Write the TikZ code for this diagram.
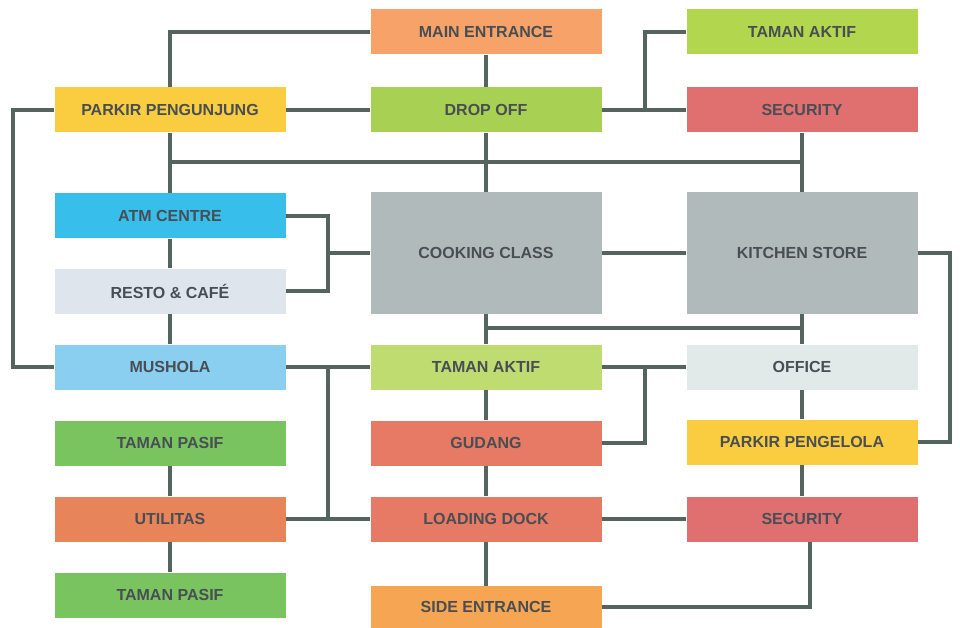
\documentclass[tikz,border=0pt]{standalone}
\usepackage{fontspec}
\setmainfont{Liberation Sans}
\usetikzlibrary{positioning}
\definecolor{linkgray}{RGB}{86,100,96}
\definecolor{labelgray}{RGB}{72,78,84}
\definecolor{orangeA}{RGB}{246,162,104}
\definecolor{limeA}{RGB}{178,214,78}
\definecolor{greenA}{RGB}{168,208,82}
\definecolor{yellowA}{RGB}{250,204,64}
\definecolor{redA}{RGB}{224,112,112}
\definecolor{cyanA}{RGB}{56,190,234}
\definecolor{paleA}{RGB}{222,229,236}
\definecolor{grayA}{RGB}{176,186,186}
\definecolor{skyA}{RGB}{138,206,240}
\definecolor{limeB}{RGB}{190,220,112}
\definecolor{paleB}{RGB}{226,233,233}
\definecolor{grassA}{RGB}{122,196,96}
\definecolor{coralA}{RGB}{230,122,100}
\definecolor{orangeB}{RGB}{232,132,90}
\definecolor{orangeC}{RGB}{246,166,82}

\begin{document}
\begin{tikzpicture}[x=1pt,y=-1pt,
    room/.style={minimum width=231pt, minimum height=45pt, inner sep=0pt,
      font=\bfseries\fontsize{16}{18}\selectfont, text=labelgray},
    bigroom/.style={room, minimum height=121pt},
    link/.style={draw=linkgray, line width=4.5pt}]
    \useasboundingbox (0,0) rectangle (960,628);

    % top rows
    \node[room, fill=orangeA] (main) at (486,32) {MAIN ENTRANCE};
    \node[room, fill=limeA] (tamanA) at (802,32) {TAMAN AKTIF};
    \node[room, fill=yellowA] (parkirP) at (170,110) {PARKIR PENGUNJUNG};
    \node[room, fill=greenA] (drop) at (486,110) {DROP OFF};
    \node[room, fill=redA] (secA) at (802,110) {SECURITY};

    % core
    \node[room, fill=cyanA] (atm) at (170,216) {ATM CENTRE};
    \node[bigroom, fill=grayA] (cook) at (486,253) {COOKING CLASS};
    \node[bigroom, fill=grayA] (kitchen) at (802,253) {KITCHEN STORE};
    \node[room, fill=paleA] (resto) at (170,291) {RESTO \& CAFÉ};

    % lower rows
    \node[room, fill=skyA] (mushola) at (170,367) {MUSHOLA};
    \node[room, fill=limeB] (tamanB) at (486,367) {TAMAN AKTIF};
    \node[room, fill=paleB] (office) at (802,367) {OFFICE};
    \node[room, fill=grassA] (pasifA) at (170,443) {TAMAN PASIF};
    \node[room, fill=coralA] (gudang) at (486,443) {GUDANG};
    \node[room, fill=yellowA] (parkirK) at (802,442) {PARKIR PENGELOLA};
    \node[room, fill=orangeB] (util) at (170,519) {UTILITAS};
    \node[room, fill=coralA] (loading) at (486,519) {LOADING DOCK};
    \node[room, fill=redA] (secB) at (802,519) {SECURITY};
    \node[room, fill=grassA] (pasifB) at (170,595) {TAMAN PASIF};
    \node[room, fill=orangeC, minimum height=42pt] (side) at (486,607) {SIDE ENTRANCE};

    % bends and junctions
    \coordinate (bendL) at (13,110);
    \coordinate (bendR) at (950,253);
    \coordinate (jDrop) at (645,110);
    \coordinate (busA) at (170,162);
    \coordinate (busB) at (486,328);
    \coordinate (jAtm) at (328,253);
    \coordinate (jMus) at (328,367);
    \coordinate (jTaman) at (645,367);

    % entrance links
    \draw[link] (main.west) -| (parkirP.north);
    \draw[link] (main.south) -- (drop.north);
    \draw[link] (parkirP.east) -- (drop.west);
    \draw[link] (drop.east) -- (secA.west);
    \draw[link] (tamanA.west) -| (jDrop);
    \draw[link] (parkirP.west) -- (bendL) |- (mushola.west);

    % upper bus
    \draw[link] (parkirP.south) -- (atm.north);
    \draw[link] (drop.south) -- (cook.north);
    \draw[link] (secA.south) -- (kitchen.north);
    \draw[link] (busA) -- (busA -| secA.south);

    % core links
    \draw[link] (atm.east) -| (jAtm) |- (resto.east);
    \draw[link] (jAtm) -- (cook.west);
    \draw[link] (atm.south) -- (resto.north);
    \draw[link] (resto.south) -- (mushola.north);
    \draw[link] (cook.east) -- (kitchen.west);
    \draw[link] (kitchen.east) -- (bendR) |- (parkirK.east);

    % lower bus
    \draw[link] (cook.south) -- (tamanB.north);
    \draw[link] (kitchen.south) -- (office.north);
    \draw[link] (busB) -- (busB -| kitchen.south);

    % lower links
    \draw[link] (mushola.east) -- (tamanB.west);
    \draw[link] (jMus) -- (jMus |- util.east);
    \draw[link] (util.east) -- (loading.west);
    \draw[link] (tamanB.east) -- (office.west);
    \draw[link] (jTaman) |- (gudang.east);
    \draw[link] (tamanB.south) -- (gudang.north);
    \draw[link] (gudang.south) -- (loading.north);
    \draw[link] (loading.south) -- (side.north);
    \draw[link] (office.south) -- (parkirK.north);
    \draw[link] (parkirK.south) -- (secB.north);
    \draw[link] (loading.east) -- (secB.west);
    \draw[link] ([xshift=8pt]secB.south) |- (side.east);
    \draw[link] (pasifA.south) -- (util.north);
    \draw[link] (util.south) -- (pasifB.north);
  \end{tikzpicture}
\end{document}
